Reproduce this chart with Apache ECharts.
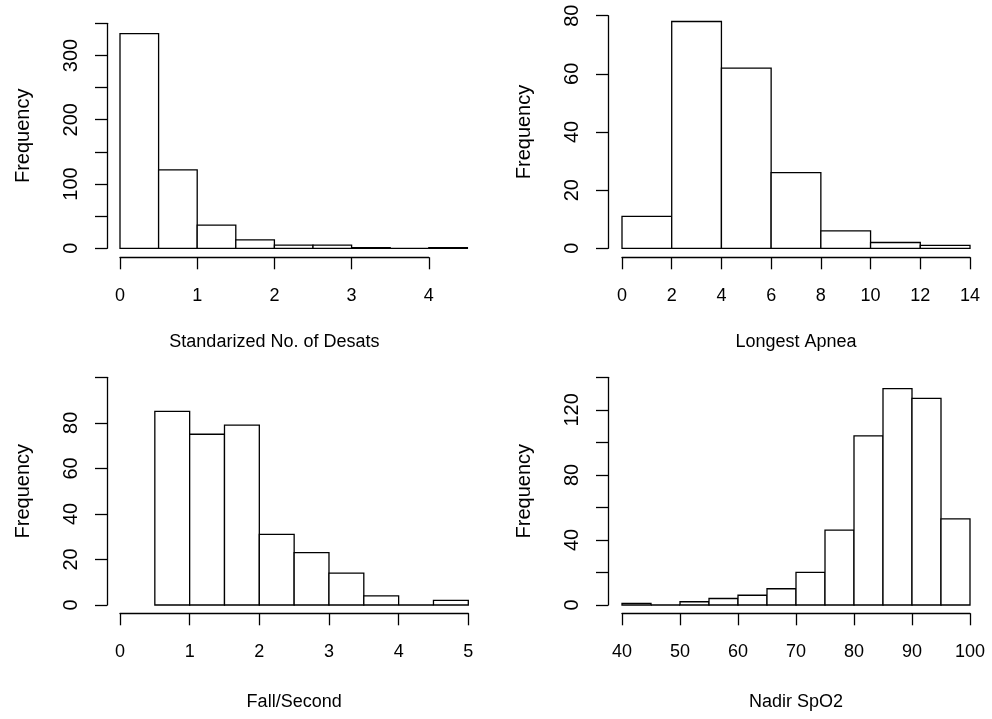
<!DOCTYPE html>
<html>
<head>
<meta charset="utf-8">
<script src="https://cdn.jsdelivr.net/npm/echarts@6/dist/echarts.min.js"></script>
<style>
  html, body { margin: 0; padding: 0; background: #fff; }
  #main { width: 992px; height: 719px; }
</style>
</head>
<body>
<div id="main"></div>
<script>
var myChart = echarts.init(document.getElementById('main'));

// histogram data: bin edges and counts
var desatBreaks = [0, 0.5, 1, 1.5, 2, 2.5, 3, 3.5, 4, 4.5];
var desatCounts = [334, 122, 36, 13, 5, 5, 1, 0, 1];

var apneaBreaks = [0, 2, 4, 6, 8, 10, 12, 14];
var apneaCounts = [11, 78, 62, 26, 6, 2, 1];

var fallBreaks = [0.5, 1, 1.5, 2, 2.5, 3, 3.5, 4, 4.5, 5];
var fallCounts = [85, 75, 79, 31, 23, 14, 4, 0, 2];

var spo2Breaks = [40, 45, 50, 55, 60, 65, 70, 75, 80, 85, 90, 95, 100];
var spo2Counts = [1, 0, 2, 4, 6, 10, 20, 46, 104, 133, 127, 53];

var fontFam = "'Liberation Sans', Arial, Helvetica, sans-serif";

function bins(breaks, counts) {
    var out = [];
    for (var i = 0; i < counts.length; i++) {
        out.push([breaks[i], breaks[i + 1], counts[i]]);
    }
    return out;
}

function renderHist(params, api) {
    var p0 = api.coord([api.value(0), 0]);
    var p1 = api.coord([api.value(1), api.value(2)]);
    return {
        type: 'rect',
        shape: {x: p0[0], y: p1[1], width: p1[0] - p0[0], height: p0[1] - p1[1]},
        style: {fill: '#fff', stroke: '#000', lineWidth: 1.3}
    };
}

var lineStyle = {color: '#000', width: 1.3};

function xAx(idx, min, max, interval, name, offset, gap) {
    return {
        type: 'value', gridIndex: idx, min: min, max: max, interval: interval,
        position: 'bottom', offset: offset,
        name: name, nameLocation: 'middle', nameGap: gap,
        nameTextStyle: {color: '#000', fontSize: 18, fontFamily: fontFam},
        axisLine: {show: true, onZero: false, lineStyle: lineStyle},
        axisTick: {show: true, length: 12, inside: false, lineStyle: lineStyle},
        axisLabel: {color: '#000', fontSize: 18, fontFamily: fontFam, margin: 30,
                    showMinLabel: true, showMaxLabel: true},
        splitLine: {show: false}
    };
}

function yAx(idx, max, labelStep, offset) {
    return {
        type: 'value', gridIndex: idx, min: 0, max: max, interval: 20,
        position: 'left', offset: offset,
        name: 'Frequency', nameLocation: 'middle', nameGap: 74,
        nameTextStyle: {color: '#000', fontSize: 20, fontFamily: fontFam},
        axisLine: {show: true, onZero: false, lineStyle: lineStyle},
        axisTick: {show: true, length: 12, inside: false, lineStyle: lineStyle},
        axisLabel: {
            color: '#000', fontSize: 20, fontFamily: fontFam, rotate: 90, margin: 25.5,
            showMinLabel: true, showMaxLabel: true,
            formatter: function (v) { return v % labelStep === 0 ? String(v) : ''; }
        },
        splitLine: {show: false}
    };
}

var hiddenX = function (idx, min, max) {
    return {type: 'value', gridIndex: idx, min: min, max: max, show: false, splitLine: {show: false}};
};
var hiddenY = function (idx) {
    return {type: 'value', gridIndex: idx, min: 0, max: 1, show: false, splitLine: {show: false}};
};

var yDesat = yAx(0, 350, 100, 13);
yDesat.interval = 50;

var yFall = yAx(3, 100, 20, 13);
yFall.axisLabel.formatter = function (v) { return v < 100 ? String(v) : ''; };

var option = {
    backgroundColor: '#fff',
    animation: false,
    grid: [
        {left: 120, top: 23.3, width: 347.4, height: 225},     // desat bars
        {left: 120, top: 200, width: 308.8, height: 48.3},     // desat x axis
        {left: 622, top: 15.7, width: 348, height: 232.6},     // apnea
        {left: 120, top: 377.3, width: 348.3, height: 227.7},  // fall
        {left: 622, top: 377.3, width: 348, height: 227.7}     // spo2
    ],
    xAxis: [
        hiddenX(0, 0, 4.5),
        xAx(1, 0, 4, 1, 'Standarized No. of Desats', 9, 76),
        xAx(2, 0, 14, 2, 'Longest Apnea', 9, 76),
        xAx(3, 0, 5, 1, 'Fall/Second', 8.3, 80),
        xAx(4, 40, 100, 10, 'Nadir SpO2', 8.3, 80)
    ],
    yAxis: [
        yDesat,
        hiddenY(1),
        yAx(2, 80, 20, 14),
        yFall,
        yAx(4, 140, 40, 14)
    ],
    series: [
        {type: 'custom', xAxisIndex: 0, yAxisIndex: 0, renderItem: renderHist,
         encode: {x: [0, 1], y: 2}, data: bins(desatBreaks, desatCounts)},
        {type: 'custom', xAxisIndex: 2, yAxisIndex: 2, renderItem: renderHist,
         encode: {x: [0, 1], y: 2}, data: bins(apneaBreaks, apneaCounts)},
        {type: 'custom', xAxisIndex: 3, yAxisIndex: 3, renderItem: renderHist,
         encode: {x: [0, 1], y: 2}, data: bins(fallBreaks, fallCounts)},
        {type: 'custom', xAxisIndex: 4, yAxisIndex: 4, renderItem: renderHist,
         encode: {x: [0, 1], y: 2}, data: bins(spo2Breaks, spo2Counts)}
    ]
};

myChart.setOption(option);
</script>
</body>
</html>
